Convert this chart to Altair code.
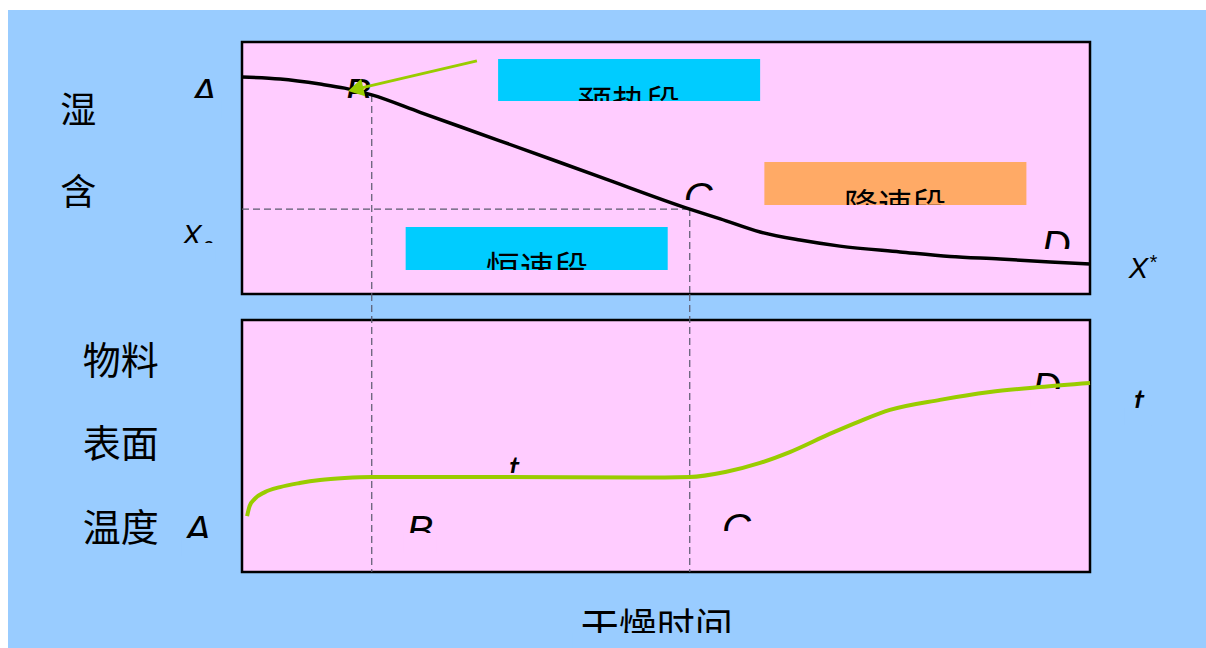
import altair as alt
import pandas as pd

# ---- drying curve: time (0-100) vs moisture content X (0-100) ----
time_top = [0, 4.5, 9.2, 12.1, 15.3, 21.0, 30.4, 42.2, 52.8, 56.4, 61.1, 65.8,
            70.5, 77.6, 83.5, 89.4, 95.3, 100]
moisture = [86.1, 85.3, 83.3, 81.7, 79.0, 72.1, 60.8, 46.5, 33.7, 29.8, 24.6, 21.4,
            19.0, 16.7, 14.9, 13.9, 12.7, 11.9]

# ---- material surface temperature vs time ----
time_bot = [0.6, 0.9, 1.5, 2.7, 4.5, 6.8, 9.2, 12.1, 15.3, 30.4, 46.9, 52.8,
            57.0, 61.1, 64.6, 69.3, 72.9, 76.4, 82.3, 88.2, 94.1, 100]
temp = [22.2, 26.2, 29.0, 31.7, 33.7, 35.3, 36.5, 37.3, 37.7, 37.7, 37.5, 37.7,
        39.7, 43.3, 47.6, 54.8, 59.9, 64.3, 68.3, 71.4, 73.4, 75.0]

# critical points B and C (time, moisture)
t_B, X_B = 15.3, 79.0
t_C, X_C = 52.8, 33.7

# stage names
stage_names = ["预热段", "降速段", "恒速段"]

BLUE, PINK = "#99CCFF", "#FFCCFF"
CYAN, ORANGE, GREEN = "#00CCFF", "#FFAA66", "#99CC00"
DASH = "#5A5A6E"
LATIN, CJK = "Liberation Sans", "Noto Sans CJK SC"
W, H, GAP = 848, 252, 26

xs = alt.Scale(domain=[0, 100], nice=False, zero=False)
ys = alt.Scale(domain=[0, 100], nice=False, zero=False)


def X(f):
    return alt.X(f, type="quantitative", scale=xs, axis=None)


def Y(f):
    return alt.Y(f, type="quantitative", scale=ys, axis=None)


def rects(df, **mark):
    return alt.Chart(pd.DataFrame(df)).mark_rect(**mark).encode(
        x=X("t1"), x2="t2", y=Y("y1"), y2="y2")


def covers(df):
    return alt.Chart(pd.DataFrame(df)).mark_rect().encode(
        x=X("t1"), x2="t2", y=Y("y1"), y2="y2",
        color=alt.Color("bg:N", scale=None))


def texts(df, font, style="normal"):
    return alt.Chart(pd.DataFrame(df)).mark_text(
        font=font, fontStyle=style, align="center", baseline="alphabetic",
        color="black").encode(
        x=X("t"), y=Y("y"), text="label:N", size=alt.Size("fs:Q", scale=None))


def dashes(df):
    return alt.Chart(pd.DataFrame(df)).mark_rule(
        color=DASH, strokeWidth=1.2, strokeDash=[7, 4]).encode(
        x=X("t1"), x2="t2", y=Y("y1"), y2="y2")


frame = {"t1": [0], "t2": [100], "y1": [0], "y2": [100]}

# ================= upper panel =================
backdrop = alt.Chart(pd.DataFrame({"k": [0]})).mark_rect(color=BLUE).encode(
    x=alt.value(-234), x2=alt.value(964), y=alt.value(-32), y2=alt.value(606))

top_side = texts({"label": ["湿", "含"], "t": [-19.3, -19.3], "y": [67.9, 35.4],
                  "fs": [36, 36]}, CJK)

top_letters = texts({
    "label": ["A", "B", "C", "D", "X", "c", "X", "*"],
    "t": [-4.5, 13.7, 53.8, 96.0, -5.9, -4.0, 105.7, 107.4],
    "y": [74.4, 74.4, 33.1, 14.0, 19.4, 16.7, 6.3, 9.9],
    "fs": [40, 40, 40, 40, 29, 20, 29, 20]}, LATIN, "italic")

top_letter_covers = covers({
    "t1": [-6.6, 11.8, 51.9, 94.1, -7.5],
    "t2": [-2.4, 15.1, 55.7, 98.0, -3.1],
    "y1": [77.8, 77.8, 37.3, 17.9, 20.2],
    "y2": [69.8, 69.8, 29.4, 10.3, 12.7],
    "bg": [BLUE, PINK, PINK, PINK, BLUE]})

boxes = alt.Chart(pd.DataFrame({
    "t1": [30.2, 61.6, 19.3], "t2": [61.1, 92.5, 50.2],
    "y1": [93.3, 52.4, 26.6], "y2": [76.6, 35.3, 9.5],
    "fill": [CYAN, ORANGE, CYAN]})).mark_rect().encode(
    x=X("t1"), x2="t2", y=Y("y1"), y2="y2",
    color=alt.Color("fill:N", scale=None))

box_text = texts({"label": stage_names, "t": [45.6, 77.0, 34.8],
                  "y": [71.0, 30.1, 5.1], "fs": [34, 34, 34]}, CJK)

box_covers = covers({
    "t1": [38.5, 70.5, 28.3], "t2": [53.0, 83.5, 41.3],
    "y1": [76.6, 35.3, 9.5], "y2": [67.1, 25.4, 1.2],
    "bg": [PINK, PINK, PINK]})

top_dash = dashes({"t1": [t_B, t_C, 0], "t2": [t_B, t_C, t_C],
                   "y1": [X_B, X_C, X_C], "y2": [0, 0, X_C]})

moist_line = alt.Chart(pd.DataFrame({"t": time_top, "v": moisture})).mark_line(
    color="black", strokeWidth=3.5, interpolate="monotone").encode(
    x=X("t"), y=Y("v"))

arrow = alt.Chart(pd.DataFrame({"t": [27.7, 13.7], "y": [92.5, 81.5],
                                "o": [0, 1]})).mark_line(
    color=GREEN, strokeWidth=3).encode(x=X("t"), y=Y("y"), order="o:Q")

arrow_head = alt.Chart(pd.DataFrame({"t": [13.7], "y": [81.5]})).mark_point(
    shape="triangle", filled=True, size=320, angle=257, color=GREEN,
    opacity=1, strokeWidth=0).encode(x=X("t"), y=Y("y"))

top = alt.layer(
    backdrop, rects(frame, fill=PINK, stroke="black", strokeWidth=2.5),
    top_side, top_letters, top_letter_covers, boxes, box_text, box_covers,
    top_dash, moist_line, arrow, arrow_head,
).properties(width=W, height=H)

# ================= lower panel =================
bot_side = texts({
    "label": ["物料", "表面", "温度", "干燥时间"],
    "t": [-14.3, -14.3, -14.3, 48.9],
    "y": [78.4, 45.5, 12.5, -26.8],
    "fs": [38, 38, 38, 38]}, CJK)

bot_letters = texts({
    "label": ["A", "B", "C", "D", "t", "t"],
    "t": [-5.2, 21.0, 58.3, 94.9, 32.0, 105.7],
    "y": [11.3, 11.3, 12.1, 68.0, 35.7, 62.3],
    "fs": [40, 40, 40, 40, 36, 36]}, LATIN, "italic")

bot_covers = covers({
    "t1": [-7.1, 19.1, 56.4, 93.0, 30.4, 104.1, 39.0],
    "t2": [-3.2, 22.9, 60.2, 96.9, 33.5, 107.3, 58.8],
    "y1": [13.5, 15.5, 16.3, 72.6, 39.3, 65.1, -24.2],
    "y2": [6.3, 7.5, 8.3, 65.1, 32.5, 58.3, -30.2],
    "bg": [BLUE, PINK, PINK, PINK, PINK, BLUE, BLUE]})

bot_dash = dashes({"t1": [t_B, t_C], "t2": [t_B, t_C],
                   "y1": [110.3, 110.3], "y2": [0, 0]})

temp_line = alt.Chart(pd.DataFrame({"t": time_bot, "v": temp})).mark_line(
    color=GREEN, strokeWidth=4, interpolate="monotone").encode(
    x=X("t"), y=Y("v"))

bottom = alt.layer(
    rects(frame, fill=PINK, stroke="black", strokeWidth=2.5),
    bot_side, bot_letters, bot_covers, bot_dash, temp_line,
).properties(width=W, height=H)

chart = alt.vconcat(top, bottom, spacing=GAP, bounds="flush").properties(
    padding={"left": 8, "top": 10, "right": 0, "bottom": 0},
    background="white",
).configure_view(strokeWidth=0)

chart.save("out.html", embed_options={"renderer": "svg", "actions": False})
